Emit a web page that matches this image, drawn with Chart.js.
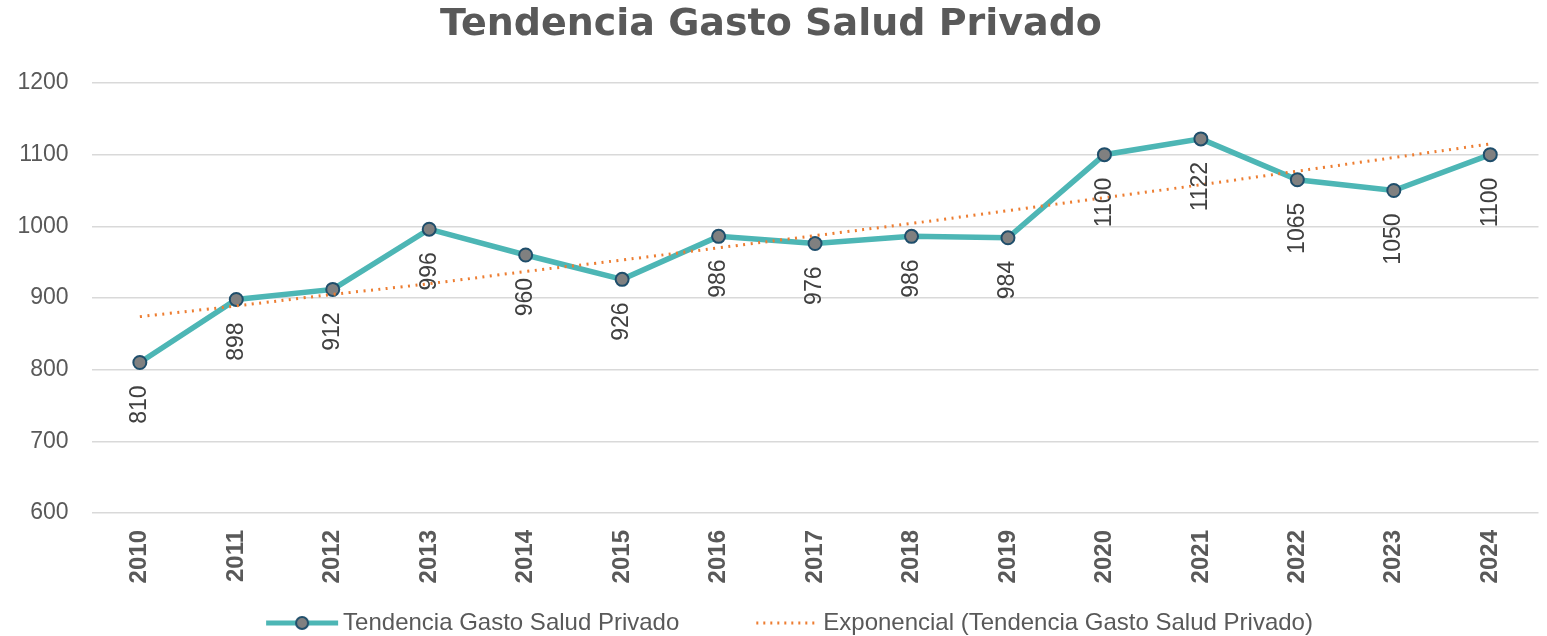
<!DOCTYPE html>
<html>
<head>
<meta charset="utf-8">
<script src="https://cdn.jsdelivr.net/npm/chart.js@4.4.1/dist/chart.umd.min.js"></script>
<style>
html,body{margin:0;padding:0;background:#fff;}
#wrap{width:1547px;height:636px;position:relative;}
</style>
</head>
<body>
<div id="wrap"><canvas id="c" width="1547" height="636"></canvas></div>
<script>
const years = ['2010','2011','2012','2013','2014','2015','2016','2017','2018','2019','2020','2021','2022','2023','2024'];
const gasto = [810, 898, 912, 996, 960, 926, 986, 976, 986, 984, 1100, 1122, 1065, 1050, 1100];
const tendencia = [874, 889, 905, 920, 937, 953, 970, 987, 1004, 1022, 1040, 1058, 1077, 1096, 1115];
const yTicks = [600, 700, 800, 900, 1000, 1100, 1200];
const seriesName = 'Tendencia Gasto Salud Privado';
const trendName = 'Exponencial (Tendencia Gasto Salud Privado)';

const FONT = "'Liberation Sans', Arial, sans-serif";
const TITLE_FONT = "'DejaVu Sans', 'Liberation Sans', sans-serif";
const TEAL = '#4DB6B5';
const ORANGE = '#ED7D31';
const GREY = '#595959';

const MW = 126;
const CW = MW + 16;
function markerLine() {
  const c = document.createElement('canvas');
  c.width = CW; c.height = 16;
  const x = c.getContext('2d');
  x.strokeStyle = TEAL; x.lineWidth = 5;
  x.beginPath(); x.moveTo(CW - 73, 8); x.lineTo(CW - 1, 8); x.stroke();
  x.beginPath(); x.arc(CW - 37, 8, 6, 0, Math.PI * 2);
  x.fillStyle = '#808080'; x.fill();
  x.strokeStyle = '#1F4E6B'; x.lineWidth = 2; x.stroke();
  return c;
}
function markerDots() {
  const c = document.createElement('canvas');
  c.width = CW; c.height = 16;
  const x = c.getContext('2d');
  x.strokeStyle = ORANGE; x.lineWidth = 3;
  x.setLineDash([2, 5]);
  x.beginPath(); x.moveTo(CW - 63, 8); x.lineTo(CW - 1, 8); x.stroke();
  return c;
}
const mk1 = markerLine();
const mk2 = markerDots();

const labelPlugin = {
  id: 'vlabels',
  afterLayout(chart) {
    const lg = chart.legend;
    if (lg) {
      lg.left -= 12; lg.right -= 12;
      lg.top += 9; lg.bottom += 9;
    }
  },
  afterDatasetsDraw(chart) {
    const meta = chart.getDatasetMeta(1);
    const ctx = chart.ctx;
    ctx.save();
    ctx.font = '23px ' + FONT;
    ctx.fillStyle = '#404040';
    ctx.textAlign = 'right';
    ctx.textBaseline = 'middle';
    meta.data.forEach((pt, i) => {
      ctx.save();
      ctx.translate(pt.x, pt.y + 23);
      ctx.rotate(-Math.PI / 2);
      ctx.fillText(String(gasto[i]), 0, 0);
      ctx.restore();
    });
    ctx.restore();
  }
};

new Chart(document.getElementById('c'), {
  type: 'line',
  data: {
    labels: years,
    datasets: [
      {
        label: trendName,
        data: tendencia,
        borderColor: ORANGE,
        borderWidth: 3,
        borderDash: [2, 5.5],
        pointRadius: 0,
        fill: false,
        tension: 0.4,
        order: 0
      },
      {
        label: seriesName,
        data: gasto,
        borderColor: TEAL,
        borderWidth: 5.5,
        pointRadius: 6.5,
        pointBackgroundColor: '#808080',
        pointBorderColor: '#1F4E6B',
        pointBorderWidth: 2,
        fill: false,
        tension: 0,
        order: 1
      }
    ]
  },
  options: {
    responsive: false,
    animation: false,
    layout: { padding: { left: 0, right: 5, top: 0, bottom: 0 } },
    plugins: {
      tooltip: { enabled: false },
      title: {
        display: true,
        text: 'Tendencia Gasto Salud Privado',
        color: GREY,
        font: { family: TITLE_FONT, size: 38, weight: 'bold', lineHeight: 1 },
        padding: { top: 6, bottom: 39 }
      },
      legend: {
        position: 'bottom',
        labels: {
          color: GREY,
          font: { family: FONT, size: 24 },
          usePointStyle: true,
          pointStyleWidth: MW,
          boxHeight: 16,
          padding: 6,
          generateLabels() {
            return [
              { text: seriesName, pointStyle: mk1, fontColor: GREY, strokeStyle: 'transparent', fillStyle: 'transparent', lineWidth: 0, datasetIndex: 1 },
              { text: trendName, pointStyle: mk2, fontColor: GREY, strokeStyle: 'transparent', fillStyle: 'transparent', lineWidth: 0, datasetIndex: 0 }
            ];
          }
        }
      }
    },
    scales: {
      x: {
        offset: true,
        grid: { display: false, drawTicks: false },
        border: { display: false },
        ticks: {
          color: GREY,
          font: { family: FONT, size: 24, weight: 'bold' },
          maxRotation: 90, minRotation: 90,
          autoSkip: false,
          padding: 17
        },
        afterFit(s) {
          const lg = s.chart.legend ? s.chart.legend.height : 40;
          s.height = 636 - 513 - lg;
        }
      },
      y: {
        min: 600, max: 1200,
        afterBuildTicks(s) { s.ticks = yTicks.map(v => ({ value: v })); },
        grid: { color: '#D9D9D9', lineWidth: 1.5, drawTicks: false },
        border: { display: false },
        ticks: {
          color: GREY,
          font: { family: FONT, size: 23 },
          padding: 23,
          callback: (v) => String(v)
        },
        afterFit(s) { s.width = 91.6; }
      }
    }
  },
  plugins: [labelPlugin]
});
</script>
</body>
</html>
